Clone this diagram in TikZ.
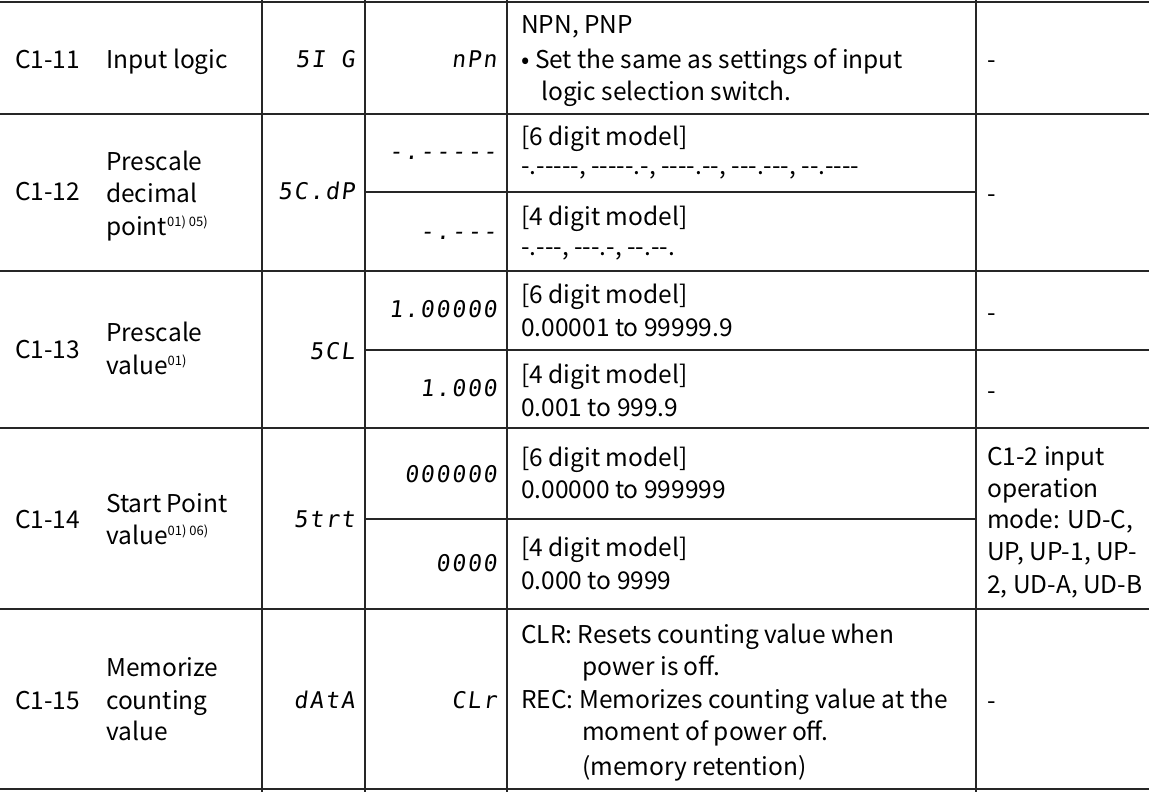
\documentclass[tikz,border=0pt]{standalone}
\usepackage{fontspec}
\setmainfont{Noto Sans CJK KR}
\newfontfamily\segfont[FakeSlant=0.12,LetterSpace=8]{DejaVu Sans Mono}
\newcommand\hy{-\kern0pt}
\begin{document}
\begin{tikzpicture}[x=1pt,y=-1pt,
  tx/.style={inner sep=0pt,yshift=-4pt,font=\fontsize{24.5}{30}\selectfont},
  L/.style={tx,anchor=mid west},
  R/.style={tx,anchor=mid east},
  sg/.style={inner sep=0pt,yshift=-3pt,anchor=mid east,font=\segfont\fontsize{23}{24}\selectfont},
  grid/.style={line width=1.2pt,black!85}]
\useasboundingbox (0,0) rectangle (1149,792);
% grid
\draw[grid] (0,2) -- (1149,2);
\foreach \y in {114,271,428,609,789} \draw[grid] (0,\y) -- (1149,\y);
\draw[grid] (365,192) -- (976,192);
\draw[grid] (365,350) -- (1149,350);
\draw[grid] (365,519) -- (976,519);
\foreach \x in {262,365,507,976} \draw[grid] (\x,0) -- (\x,792);
% row C1-11
\node[L] (c11) at (15,62) {C1-11};
\node[L] (n11) at (106,62) {Input logic};
\node[sg] (p11) at (355,62) {5I G};
\node[sg] (v11) at (497,62) {nPn};
\node[L] (d11a) at (521,27) {NPN, PNP};
\node[L] (d11b) at (521,62) {\textbullet\ Set the same as settings of input};
\node[L] (d11c) at (541,94) {logic selection switch.};
\node[L] (r11) at (987,62) {-};
% row C1-12
\node[L] (c12) at (15,194) {C1-12};
\node[L] (n12a) at (106,164) {Prescale};
\node[L] (n12b) at (106,196) {decimal};
\node[L] (n12c) at (106,229) {point\textsuperscript{\fontsize{13}{13}\selectfont 01) 05)}};
\node[sg] (p12) at (355,194) {5C.dP};
\node[sg] (v12a) at (497,154) {-.-----};
\node[sg] (v12b) at (497,234) {-.---};
\node[L] (d12a) at (521,139) {[6 digit model]};
\node[L] (d12b) at (521,168) {\hy.\hy\hy\hy\hy\hy, \hy\hy\hy\hy\hy.\hy, \hy\hy\hy\hy.\hy\hy, \hy\hy\hy.\hy\hy\hy, \hy\hy.\hy\hy\hy\hy};
\node[L] (d12c) at (521,219) {[4 digit model]};
\node[L] (d12d) at (521,249) {\hy.\hy\hy\hy, \hy\hy\hy.\hy, \hy\hy.\hy\hy.};
\node[L] (r12) at (987,196) {-};
% row C1-13
\node[L] (c13) at (15,352) {C1-13};
\node[L] (n13a) at (106,335) {Prescale};
\node[L] (n13b) at (106,368) {value\textsuperscript{\fontsize{13}{13}\selectfont 01)}};
\node[sg] (p13) at (355,354) {5CL};
\node[sg] (v13a) at (497,312) {1.00000};
\node[sg] (v13b) at (497,391) {1.000};
\node[L] (d13a) at (521,297) {[6 digit model]};
\node[L] (d13b) at (521,330) {0.00001 to 99999.9};
\node[L] (d13c) at (521,377) {[4 digit model]};
\node[L] (d13d) at (521,410) {0.001 to 999.9};
\node[L] (r13a) at (987,315) {-};
\node[L] (r13b) at (987,393) {-};
% row C1-14
\node[L] (c14) at (15,522) {C1-14};
\node[L] (n14a) at (106,506) {Start Point};
\node[L] (n14b) at (106,538) {value\textsuperscript{\fontsize{13}{13}\selectfont 01) 06)}};
\node[sg] (p14) at (355,522) {5trt};
\node[sg] (v14a) at (497,477) {000000};
\node[sg] (v14b) at (497,566) {0000};
\node[L] (d14a) at (521,460) {[6 digit model]};
\node[L] (d14b) at (521,492) {0.00000 to 999999};
\node[L] (d14c) at (521,550) {[4 digit model]};
\node[L] (d14d) at (521,583) {0.000 to 9999};
\node[L] (r14a) at (987,459) {C1-2 input};
\node[L] (r14b) at (987,491) {operation};
\node[L] (r14c) at (987,522) {mode: UD-C,};
\node[L] (r14d) at (987,554) {UP, UP-1, UP-};
\node[L] (r14e) at (987,587) {2, UD-A, UD-B};
% row C1-15
\node[L] (c15) at (15,703) {C1-15};
\node[L] (n15a) at (106,670) {Memorize};
\node[L] (n15b) at (106,703) {counting};
\node[L] (n15c) at (106,734) {value};
\node[sg] (p15) at (355,703) {dAtA};
\node[sg] (v15) at (497,703) {CLr};
\node[L] (d15a) at (521,637) {CLR: Resets counting value when};
\node[L] (d15b) at (582,669) {power is off.};
\node[L] (d15c) at (521,702) {REC: Memorizes counting value at the};
\node[L] (d15d) at (582,734) {moment of power off.};
\node[L] (d15e) at (582,769) {(memory retention)};
\node[L] (r15) at (987,703) {-};
\end{tikzpicture}
\end{document}
